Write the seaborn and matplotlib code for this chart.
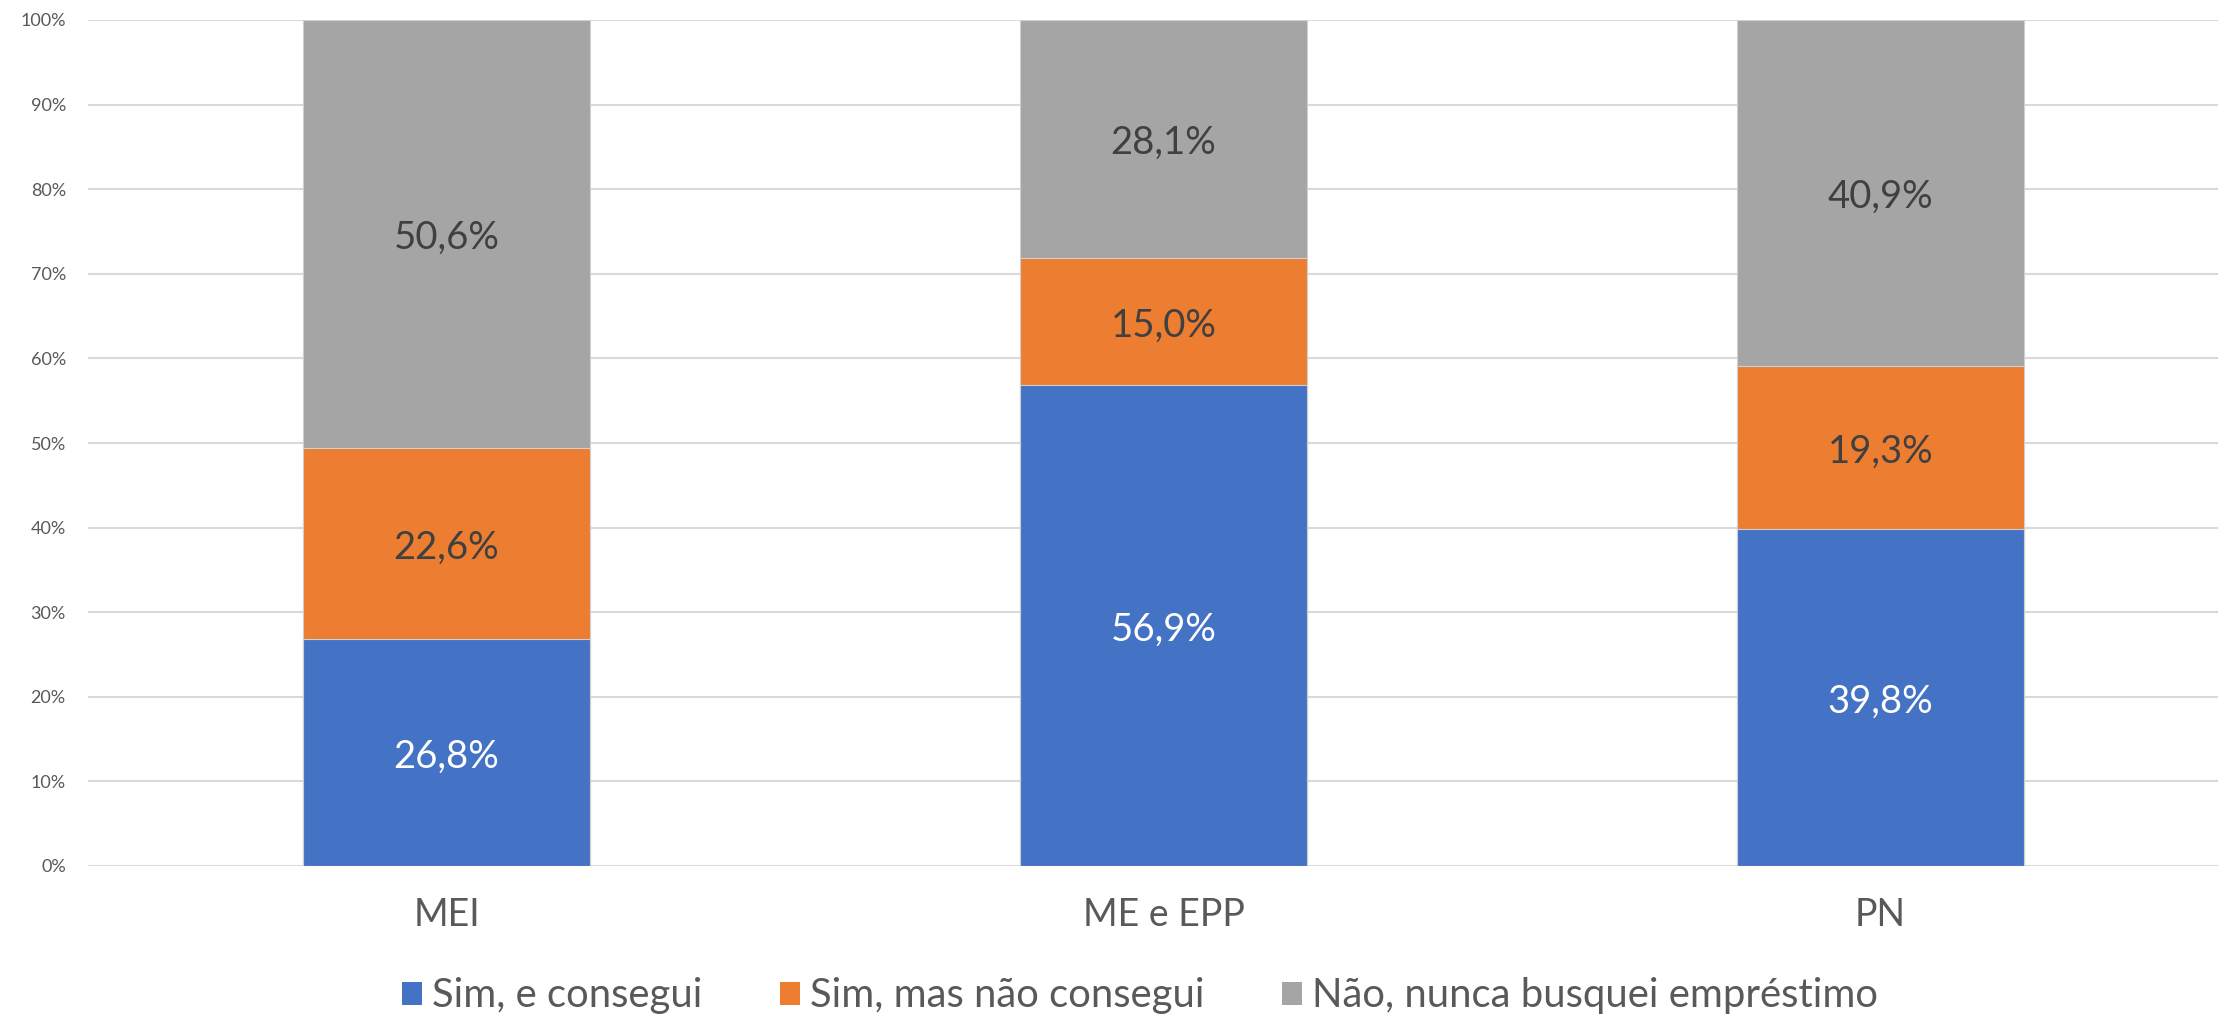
import numpy as np
import pandas as pd
import matplotlib
matplotlib.use("Agg")
import matplotlib.pyplot as plt
from matplotlib.patches import Patch
import seaborn as sns

# data
categories = ["MEI", "ME e EPP", "PN"]
series_names = ["Sim, e consegui", "Sim, mas não consegui", "Não, nunca busquei empréstimo"]
sim_conseguiu = [26.8, 56.9, 39.8]
sim_nao_conseguiu = [22.6, 15.0, 19.3]
nao_buscou = [50.6, 28.1, 40.9]
y_ticks = [0, 10, 20, 30, 40, 50, 60, 70, 80, 90, 100]

colors = ["#4472C4", "#ED7D31", "#A5A5A5"]
label_colors = ["white", "#404040", "#404040"]

sns.set_theme(style="white")
plt.rcParams["font.family"] = ["Lato", "DejaVu Sans"]

df = pd.DataFrame({
    "categoria": categories,
    series_names[0]: sim_conseguiu,
    series_names[1]: sim_nao_conseguiu,
    series_names[2]: nao_buscou,
})
cum = df[series_names].cumsum(axis=1)

fig = plt.figure(figsize=(22.18, 10.17), dpi=100)
ax = fig.add_axes([88 / 2218, 1 - 866 / 1017, 1 - 88 / 2218, 846 / 1017])

# stacked bars: draw cumulative totals from the top segment down
for i in reversed(range(len(series_names))):
    sns.barplot(x=df["categoria"], y=cum[series_names[i]], color=colors[i],
                width=0.4, saturation=1, ax=ax, zorder=2,
                edgecolor="#d0d0d0", linewidth=0.8)

# data labels in the middle of each segment
for i, name in enumerate(series_names):
    lower = cum[name] - df[name]
    for j, v in enumerate(df[name]):
        ax.annotate(f"{v:.1f}%".replace(".", ","), (j, lower.iloc[j] + v / 2),
                    xytext=(0, -3), textcoords="offset points",
                    ha="center", va="center", fontsize=27.5, color=label_colors[i], zorder=3)

ax.set_ylim(0, 100)
ax.set_xlim(-0.5, -0.5 + 2130 / 717)
ax.set_yticks(y_ticks)
ax.set_yticklabels([f"{t}%" for t in y_ticks])
ax.yaxis.grid(True, color="#D9D9D9", linewidth=1.5, zorder=0)
ax.set_axisbelow(True)
for s in ax.spines.values():
    s.set_visible(False)
ax.set_xlabel("")
ax.set_ylabel("")
ax.tick_params(axis="y", labelsize=13, labelcolor="#595959", length=0, pad=16)
ax.tick_params(axis="x", labelsize=27, labelcolor="#595959", length=0, pad=22)

handles = [Patch(facecolor=c, edgecolor="none") for c in colors]
fig.legend(handles, series_names, loc="center", bbox_to_anchor=(0.514, 1 - 996 / 1017),
           ncol=3, frameon=False, fontsize=28.8, labelcolor="#595959",
           handlelength=0.5, handleheight=0.5, handletextpad=0.25, columnspacing=1.95)

fig.savefig("out.png", dpi=100)
